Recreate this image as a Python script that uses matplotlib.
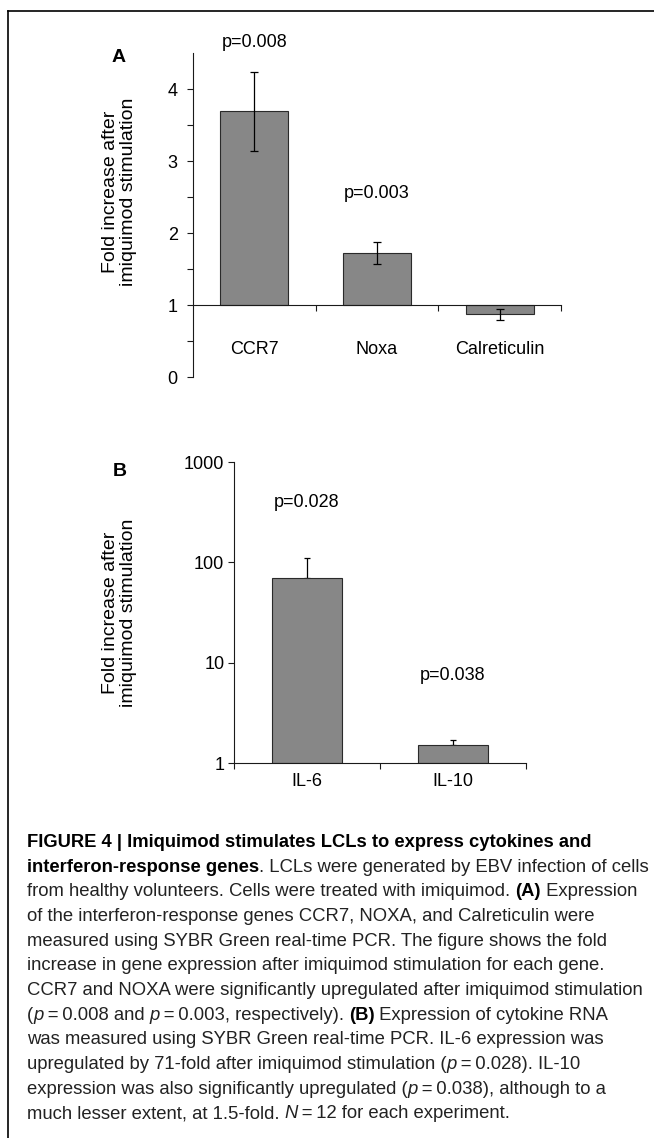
import matplotlib
matplotlib.use("Agg")
import matplotlib.pyplot as plt
from matplotlib.ticker import FixedLocator, NullLocator, FixedFormatter

plt.rcParams['font.family'] = ['Liberation Sans', 'DejaVu Sans']

# panel A: interferon-response genes (fold increase, baseline 1)
genes_a = ['CCR7', 'Noxa', 'Calreticulin']
fold_a = [3.69, 1.72, 0.87]
err_a = [0.55, 0.15, 0.08]
pval_a = ['p=0.008', 'p=0.003', '']

# panel B: cytokines (log scale)
genes_b = ['IL-6', 'IL-10']
fold_b = [70.5, 1.51]
err_b_up = [41.0, 0.19]
pval_b = ['p=0.028', 'p=0.038']

W, H = 654, 1138
fig = plt.figure(figsize=(W / 100, H / 100), dpi=100)

bar_fc = '#878787'
bar_ec = '#2a2a2a'
ink = '#1a1a1a'


def frac(x0, y0, x1, y1):
    # pixel box (top-left origin) -> figure fractions
    return [x0 / W, 1 - y1 / H, (x1 - x0) / W, (y1 - y0) / H]


# ---------------- panel A ----------------
axA = fig.add_axes(frac(193, 53, 561, 377))
xa = range(len(genes_a))
axA.bar(xa, [v - 1 for v in fold_a], bottom=1, width=0.555,
        color=bar_fc, edgecolor=bar_ec, linewidth=0.8, zorder=2)
axA.errorbar(xa, fold_a, yerr=err_a, fmt='none', ecolor='black',
             elinewidth=0.9, capsize=3.2, capthick=0.9, zorder=3)
axA.set_xlim(-0.5, 2.5)
axA.set_ylim(0, 4.5)
for s in ['top', 'right']:
    axA.spines[s].set_visible(False)
axA.spines['bottom'].set_position(('data', 1))
for s in ['left', 'bottom']:
    axA.spines[s].set_linewidth(0.8)
    axA.spines[s].set_color(ink)
axA.yaxis.set_major_locator(FixedLocator([0, 1, 2, 3, 4]))
axA.yaxis.set_minor_locator(FixedLocator([0.5, 1.5, 2.5, 3.5]))
axA.tick_params(axis='y', which='both', length=4, width=0.8, color=ink,
                labelsize=13, pad=7)
axA.xaxis.set_major_locator(FixedLocator(list(xa)))
axA.xaxis.set_major_formatter(FixedFormatter(genes_a))
axA.xaxis.set_minor_locator(FixedLocator([0.5, 1.5, 2.5]))
axA.tick_params(axis='x', which='major', length=0, labelsize=13, pad=26)
axA.tick_params(axis='x', which='minor', length=4, width=0.8, color=ink)
axA.set_ylabel('Fold increase after\nimiquimod stimulation', fontsize=14,
               linespacing=1.1)
axA.yaxis.set_label_coords(-0.152, 0.571)
axA.text(0, 4.64, pval_a[0], ha='center', va='center', fontsize=13,
         clip_on=False)
axA.text(1, 2.55, pval_a[1], ha='center', va='center', fontsize=13,
         clip_on=False)
fig.text(119 / W, 1 - 58 / H, 'A', fontsize=14, fontweight='bold',
         ha='center', va='center')

# ---------------- panel B ----------------
axB = fig.add_axes(frac(234, 462, 526, 763))
xb = range(len(genes_b))
axB.set_yscale('log')
axB.bar(xb, [v - 1 for v in fold_b], bottom=1, width=0.485,
        color=bar_fc, edgecolor=bar_ec, linewidth=0.8, zorder=2)
axB.errorbar(xb, fold_b, yerr=[[0, 0], err_b_up], fmt='none',
             ecolor='black', elinewidth=0.9, capsize=2.5, capthick=0.9,
             zorder=1)
axB.set_xlim(-0.5, 1.5)
axB.set_ylim(1, 1000)
for s in ['top', 'right']:
    axB.spines[s].set_visible(False)
for s in ['left', 'bottom']:
    axB.spines[s].set_linewidth(0.8)
    axB.spines[s].set_color(ink)
axB.yaxis.set_major_locator(FixedLocator([1, 10, 100, 1000]))
axB.yaxis.set_major_formatter(FixedFormatter(['1', '10', '100', '1000']))
axB.yaxis.set_minor_locator(NullLocator())
axB.tick_params(axis='y', which='both', length=4, width=0.8, color=ink,
                labelsize=13, pad=3)
axB.xaxis.set_major_locator(FixedLocator(list(xb)))
axB.xaxis.set_major_formatter(FixedFormatter(genes_b))
axB.xaxis.set_minor_locator(FixedLocator([-0.5, 0.5, 1.5]))
axB.tick_params(axis='x', which='major', length=0, labelsize=13, pad=7)
axB.tick_params(axis='x', which='minor', length=4, width=0.8, color=ink)
axB.set_ylabel('Fold increase after\nimiquimod stimulation', fontsize=14,
               linespacing=1.1)
axB.yaxis.set_label_coords(-0.332, 0.498)
axB.text(0, 391, pval_b[0], ha='center', va='center', fontsize=13,
         clip_on=False)
axB.text(1, 7.4, pval_b[1], ha='center', va='center', fontsize=13,
         clip_on=False)
fig.text(120 / W, 1 - 472 / H, 'B', fontsize=14, fontweight='bold',
         ha='center', va='center')

# ---------------- frame (top and left rules) ----------------
fig.add_artist(plt.Line2D([8 / W, 1], [1 - 11 / H, 1 - 11 / H],
                          transform=fig.transFigure, color='black', lw=1.2))
fig.add_artist(plt.Line2D([8 / W, 8 / W], [1 - 11 / H, 0],
                          transform=fig.transFigure, color='black', lw=1.2))

# ---------------- caption ----------------
TH = '\u2009'
caption = [
    [("FIGURE 4 | Imiquimod stimulates LCLs to express cytokines and", 'b')],
    [("interferon-response genes", 'b'),
     (". LCLs were generated by EBV infection of cells", 'r')],
    [("from healthy volunteers. Cells were treated with imiquimod. ", 'r'),
     ("(A)", 'b'), (" Expression", 'r')],
    [("of the interferon-response genes CCR7, NOXA, and Calreticulin were", 'r')],
    [("measured using SYBR Green real-time PCR. The figure shows the fold", 'r')],
    [("increase in gene expression after imiquimod stimulation for each gene.", 'r')],
    [("CCR7 and NOXA were significantly upregulated after imiquimod stimulation", 'r')],
    [("(", 'r'), ("p", 'i'), (TH + "=" + TH + "0.008 and ", 'r'), ("p", 'i'),
     (TH + "=" + TH + "0.003, respectively). ", 'r'), ("(B)", 'b'),
     (" Expression of cytokine RNA", 'r')],
    [("was measured using SYBR Green real-time PCR. IL-6 expression was", 'r')],
    [("upregulated by 71-fold after imiquimod stimulation (", 'r'), ("p", 'i'),
     (TH + "=" + TH + "0.028). IL-10", 'r')],
    [("expression was also significantly upregulated (", 'r'), ("p", 'i'),
     (TH + "=" + TH + "0.038), although to a", 'r')],
    [("much lesser extent, at 1.5-fold. ", 'r'), ("N", 'i'),
     (TH + "=" + TH + "12 for each experiment.", 'r')],
]

renderer = fig.canvas.get_renderer()

# regular caption text is condensed in the original; size it so the
# longest plain line spans the same width (27 px -> 645 px)
probe = fig.text(0, 0, caption[6][0][0], family=['Liberation Sans'],
                 fontsize=10)
reg_size = 10 * 618 / probe.get_window_extent(renderer).width
probe.remove()

styles = {
    'b': dict(family=['Liberation Sans', 'DejaVu Sans'], fontweight='bold',
              fontsize=13.2, color='black'),
    'r': dict(family=['Liberation Sans', 'DejaVu Sans'], fontsize=reg_size,
              color='#222222'),
    'i': dict(family=['Liberation Sans', 'DejaVu Sans'], fontsize=reg_size,
              style='italic', color='#222222'),
}


def seg_width(s, st):
    # advance width including leading/trailing spaces
    t1 = fig.text(0, 0, 'x' + s + 'x', **styles[st])
    t2 = fig.text(0, 0, 'xx', **styles[st])
    w = (t1.get_window_extent(renderer).width
         - t2.get_window_extent(renderer).width)
    t1.remove()
    t2.remove()
    return w


x_left = 27
base0 = 847
step = 24.65
for k, line in enumerate(caption):
    x = x_left
    y = 1 - (base0 + k * step) / H
    for s, st in line:
        fig.text(x / W, y, s, ha='left', va='baseline', **styles[st])
        x += seg_width(s, st)

fig.savefig('out.png', dpi=100, facecolor='white')
